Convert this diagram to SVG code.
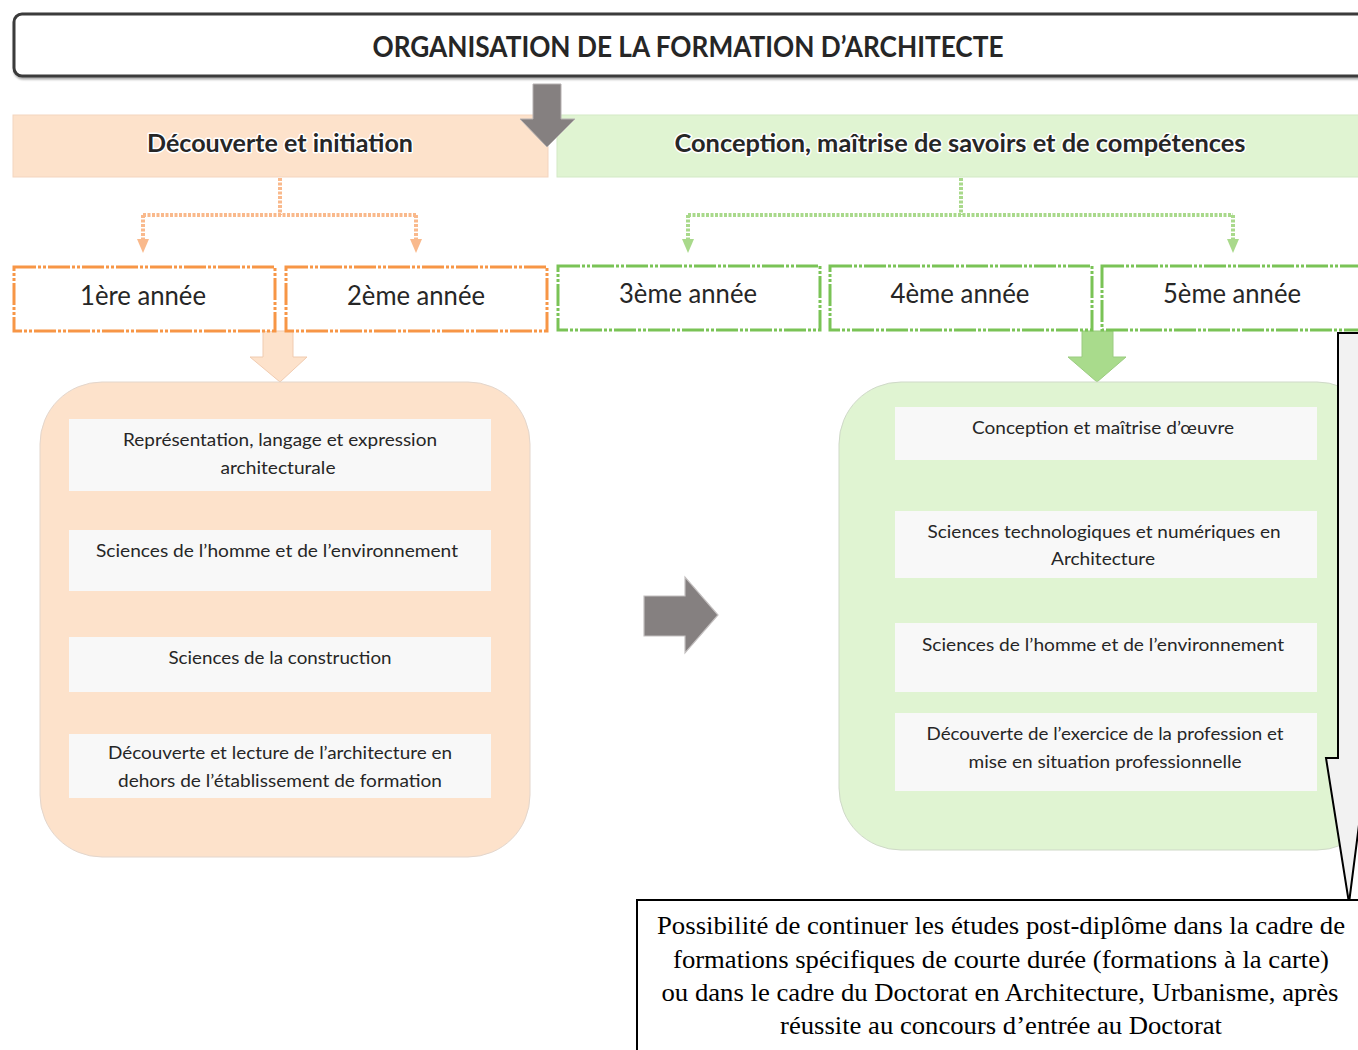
<svg xmlns="http://www.w3.org/2000/svg" width="1358" height="1050" viewBox="0 0 1358 1050">
<defs>
<style>
.cal{font-family:Lato,"Open Sans","Liberation Sans",sans-serif;fill:#262626;text-anchor:middle}
.glow{paint-order:stroke;stroke:#ffffff;stroke-width:3;stroke-linejoin:round}
.hd{font-size:25px;font-weight:bold}
.yr{font-size:26px}
.it{font-size:18px}
.item{fill:#f8f8f8}
.ybo{fill:#fff;stroke:#f79646;stroke-width:3;stroke-dasharray:22 2 3 2 3 2}
.ybg{fill:#fff;stroke:#7ac356;stroke-width:3;stroke-dasharray:22 2 3 2 3 2}
.conO{fill:none;stroke:#f9b98c;stroke-width:4;stroke-dasharray:3 1.5}
.conG{fill:none;stroke:#a9d98b;stroke-width:4;stroke-dasharray:3 1.5}
.serif{font-family:"Liberation Serif","Times New Roman",serif;font-size:25px;fill:#000;text-anchor:middle}
</style>
<filter id="sh" x="-5%" y="-20%" width="110%" height="150%">
<feDropShadow dx="1" dy="2" stdDeviation="1" flood-color="#000" flood-opacity="0.35"/>
</filter>
</defs>
<rect width="1358" height="1050" fill="#fff"/>

<g id="title">
<rect x="14" y="14" width="1360" height="62" rx="8" fill="#fff" stroke="#3a3a3a" stroke-width="3" filter="url(#sh)"/>
<text class="cal hd glow" x="688" y="57" textLength="631" lengthAdjust="spacingAndGlyphs" style="font-size:28px">ORGANISATION DE LA FORMATION D’ARCHITECTE</text>
</g>

<g id="band-decouverte">
<rect x="13" y="115" width="535" height="62" fill="#fde2cb" stroke="#f3d5bf" stroke-width="1"/>
<text class="cal hd glow" x="280" y="152" textLength="266" lengthAdjust="spacingAndGlyphs">Découverte et initiation</text>
</g>

<g id="band-conception">
<rect x="557" y="115" width="810" height="62" fill="#e0f4d2" stroke="#d3e9c6" stroke-width="1"/>
<text class="cal hd glow" x="960" y="152" textLength="571" lengthAdjust="spacingAndGlyphs">Conception, maîtrise de savoirs et de compétences</text>
</g>

<g id="arrow-title">
<polygon points="533,84 561,84 561,119 575,119 547,147 520,119 533,119" fill="#858080" stroke="#b5b0b0" stroke-width="1"/>
</g>

<g id="connectors">
<path class="conO" d="M280,178 V215 M143,215 H416 M143,215 V240 M416,215 V240"/>
<polygon points="137,239 149,239 143,253" fill="#f9b98c"/>
<polygon points="410,239 422,239 416,253" fill="#f9b98c"/>
<path class="conG" d="M961,178 V215 M688,215 H1233 M688,215 V240 M1233,215 V240"/>
<polygon points="682,239 694,239 688,253" fill="#a9d98b"/>
<polygon points="1227,239 1239,239 1233,253" fill="#a9d98b"/>
<polygon points="263,331 293,331 293,357 307,357 280,382 250,357 263,357" fill="#fde2cb" stroke="#f0cbb0" stroke-width="1"/>
<polygon points="1082,331 1113,331 1113,357 1126,357 1097,382 1068,357 1082,357" fill="#a9db8c" stroke="#9bcc80" stroke-width="1"/>
<polygon points="644,596 685,596 685,577 718,615 685,653 685,636 644,636" fill="#858080" stroke="#c4c0c0" stroke-width="1.2"/>
</g>

<g id="year1">
<rect class="ybo" x="14" y="267" width="261" height="64"/>
<text class="cal yr glow" x="143" y="305" textLength="126" lengthAdjust="spacingAndGlyphs">1ère année</text>
</g>
<g id="year2">
<rect class="ybo" x="286" y="267" width="261" height="64"/>
<text class="cal yr glow" x="416" y="305" textLength="138" lengthAdjust="spacingAndGlyphs">2ème année</text>
</g>
<g id="year3">
<rect class="ybg" x="558" y="266" width="262" height="64"/>
<text class="cal yr glow" x="688" y="303" textLength="138" lengthAdjust="spacingAndGlyphs">3ème année</text>
</g>
<g id="year4">
<rect class="ybg" x="830" y="266" width="262" height="64"/>
<text class="cal yr glow" x="960" y="303" textLength="139" lengthAdjust="spacingAndGlyphs">4ème année</text>
</g>
<g id="year5">
<rect class="ybg" x="1102" y="266" width="270" height="64"/>
<text class="cal yr glow" x="1232" y="303" textLength="138" lengthAdjust="spacingAndGlyphs">5ème année</text>
</g>

<g id="left-container">
<rect x="40" y="382" width="490" height="475" rx="62" fill="#fde2cb" stroke="#e3d6cc" stroke-width="1"/>
<rect class="item" x="69" y="419" width="422" height="72"/>
<text class="cal it" x="280" y="446" textLength="314" lengthAdjust="spacingAndGlyphs">Représentation, langage et expression</text>
<text class="cal it" x="278" y="474" textLength="115" lengthAdjust="spacingAndGlyphs">architecturale</text>
<rect class="item" x="69" y="530" width="422" height="61"/>
<text class="cal it" x="277" y="557" textLength="362" lengthAdjust="spacingAndGlyphs">Sciences de l’homme et de l’environnement</text>
<rect class="item" x="69" y="637" width="422" height="55"/>
<text class="cal it" x="280" y="664" textLength="223" lengthAdjust="spacingAndGlyphs">Sciences de la construction</text>
<rect class="item" x="69" y="734" width="422" height="64"/>
<text class="cal it" x="280" y="759" textLength="344" lengthAdjust="spacingAndGlyphs">Découverte et lecture de l’architecture en</text>
<text class="cal it" x="280" y="787" textLength="324" lengthAdjust="spacingAndGlyphs">dehors de l’établissement de formation</text>
</g>

<g id="right-container">
<rect x="839" y="382" width="540" height="468" rx="62" fill="#e0f4d2" stroke="#cfd9c8" stroke-width="1"/>
<rect class="item" x="895" y="407" width="422" height="53"/>
<text class="cal it" x="1103" y="434" textLength="262" lengthAdjust="spacingAndGlyphs">Conception et maîtrise d’œuvre</text>
<rect class="item" x="895" y="511" width="422" height="67"/>
<text class="cal it" x="1104" y="538" textLength="353" lengthAdjust="spacingAndGlyphs">Sciences technologiques et numériques en</text>
<text class="cal it" x="1103" y="565" textLength="104" lengthAdjust="spacingAndGlyphs">Architecture</text>
<rect class="item" x="895" y="623" width="422" height="69"/>
<text class="cal it" x="1103" y="651" textLength="362" lengthAdjust="spacingAndGlyphs">Sciences de l’homme et de l’environnement</text>
<rect class="item" x="895" y="713" width="422" height="78"/>
<text class="cal it" x="1105" y="740" textLength="357" lengthAdjust="spacingAndGlyphs">Découverte de l’exercice de la profession et</text>
<text class="cal it" x="1105" y="768" textLength="273" lengthAdjust="spacingAndGlyphs">mise en situation professionnelle</text>
</g>

<g id="callout">
<path d="M1380,333 H1338 V758 H1326 L1349,903 L1375,700" fill="#f2f2f2" stroke="#000" stroke-width="2" stroke-linejoin="miter"/>
</g>

<g id="postgrad">
<rect x="637" y="900" width="760" height="170" fill="#fff" stroke="#000" stroke-width="2"/>
<text class="serif" x="1001" y="934" textLength="688" lengthAdjust="spacingAndGlyphs">Possibilité de continuer les études post-diplôme dans la cadre de</text>
<text class="serif" x="1001" y="968" textLength="656" lengthAdjust="spacingAndGlyphs">formations spécifiques de courte durée (formations à la carte)</text>
<text class="serif" x="1000" y="1001" textLength="677" lengthAdjust="spacingAndGlyphs">ou dans le cadre du Doctorat en Architecture, Urbanisme, après</text>
<text class="serif" x="1001" y="1034" textLength="442" lengthAdjust="spacingAndGlyphs">réussite au concours d’entrée au Doctorat</text>
</g>
</svg>
